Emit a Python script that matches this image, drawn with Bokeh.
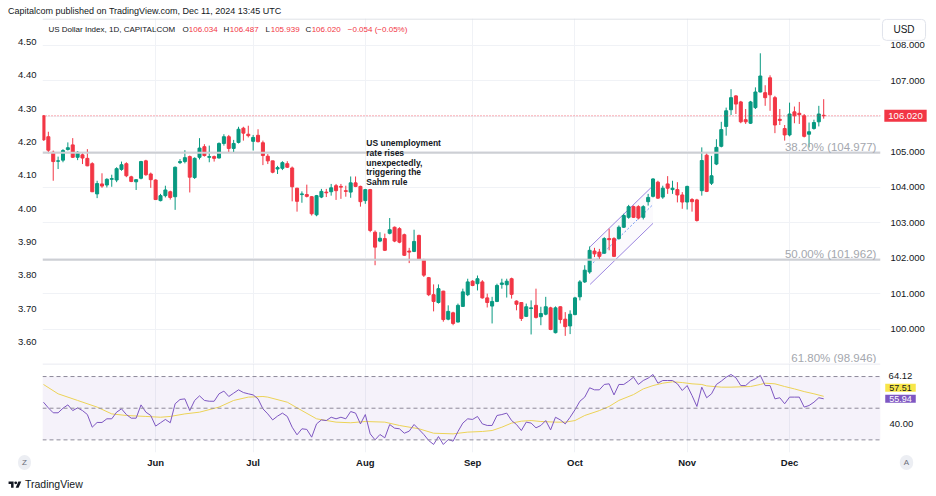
from bokeh.plotting import figure
from bokeh.models import (Range1d, LinearAxis, FixedTicker, Grid, Span, Label,
                          BoxAnnotation, NumeralTickFormatter, Div, ColumnDataSource)
from bokeh.layouts import column, row
from bokeh.embed import file_html
from bokeh.resources import INLINE

# ---------------- data (daily bars, May 1 - Dec 11 2024, weekdays) ----------------
header_text = "Capitalcom published on TradingView.com, Dec 11, 2024 13:45 UTC"
symbol_text = "US Dollar Index, 1D, CAPITALCOM"
month_bars = [23, 43, 66, 88, 109, 132, 153]
month_labels = ["Jun", "Jul", "Aug", "Sep", "Oct", "Nov", "Dec"]
price_ticks = [100, 101, 102, 103, 104, 105, 106, 107, 108]
left_ticks = [3.6, 3.7, 3.8, 3.9, 4.0, 4.1, 4.2, 4.3, 4.4, 4.5]
rsi_ticks = [40]

opens = [
    106.02, 105.43, 104.99, 104.74, 104.77, 105.07, 105.20, 104.85, 104.92, 104.82,
    104.67, 103.82, 104.10, 104.07, 104.23, 104.21, 104.51, 104.67, 104.30, 104.16,
    104.26, 104.75, 104.38, 104.21, 103.63, 103.77, 103.88, 103.74, 104.70, 104.73,
    104.87, 104.28, 104.85, 105.15, 104.85, 104.87, 104.83, 105.24, 105.43, 105.10,
    105.27, 105.67, 105.50, 105.30, 105.47, 105.26, 104.88, 104.75, 104.52, 104.54,
    104.67, 104.55, 103.98, 103.80, 103.80, 103.74, 103.23, 103.73, 103.87, 103.88,
    104.05, 104.03, 103.91, 103.87, 104.13, 104.03, 103.63, 103.94, 102.74, 102.49,
    102.56, 102.71, 102.88, 102.84, 102.67, 102.21, 102.20, 102.65, 101.97, 101.46,
    100.98, 100.76, 101.08, 100.29, 100.47, 100.21, 100.65, 100.98, 101.36, 101.29,
    101.34, 100.89, 100.66, 100.79, 101.27, 101.26, 101.43, 100.80, 100.76, 100.37,
    100.59, 100.68, 100.36, 100.43, 100.61, 99.91, 100.64, 100.29, 100.10, 100.42,
    100.92, 101.34, 101.62, 102.21, 102.18, 102.15, 102.56, 102.56, 102.56, 102.88,
    103.16, 103.46, 103.46, 103.16, 103.60, 103.75, 104.15, 103.73, 104.10, 103.94,
    103.94, 103.79, 103.59, 103.66, 103.65, 103.91, 104.91, 104.12, 104.66, 105.16,
    105.72, 106.19, 106.58, 106.41, 105.91, 105.81, 106.25, 106.69, 106.67, 107.09,
    106.53, 105.92, 105.66, 105.48, 106.13, 106.09, 106.02, 105.50, 105.66, 105.85,
    106.034]
highs = [
    106.03, 105.57, 105.04, 104.87, 105.08, 105.27, 105.39, 105.02, 104.99, 105.08,
    104.71, 104.19, 104.40, 104.26, 104.36, 104.57, 104.73, 104.71, 104.33, 104.23,
    104.75, 104.78, 104.42, 104.23, 103.82, 104.05, 103.91, 104.59, 104.80, 105.05,
    104.90, 104.85, 105.39, 105.22, 105.18, 104.90, 105.27, 105.50, 105.48, 105.34,
    105.71, 105.71, 105.74, 105.48, 105.64, 105.32, 104.94, 104.75, 104.61, 104.74,
    104.74, 104.59, 103.99, 103.89, 104.08, 103.76, 103.79, 103.96, 103.96, 104.10,
    104.10, 104.10, 104.05, 104.31, 104.31, 104.05, 103.96, 103.96, 102.79, 102.74,
    102.70, 103.14, 102.90, 102.88, 102.70, 102.30, 102.81, 102.67, 101.99, 101.48,
    101.27, 101.27, 101.09, 100.68, 100.50, 100.73, 101.15, 101.43, 101.39, 101.52,
    101.39, 101.01, 100.92, 101.29, 101.43, 101.43, 101.46, 100.82, 100.77, 100.73,
    100.82, 101.15, 100.64, 100.92, 100.64, 100.65, 100.65, 100.49, 100.54, 100.92,
    101.39, 101.81, 102.34, 102.30, 102.27, 102.60, 102.84, 102.60, 102.93, 103.26,
    103.51, 103.49, 103.50, 103.50, 103.82, 104.26, 104.19, 104.05, 104.32, 104.19,
    104.15, 103.87, 104.05, 103.70, 103.68, 105.13, 104.97, 104.89, 105.36, 105.85,
    106.25, 106.77, 106.60, 106.44, 106.21, 106.44, 106.82, 107.78, 106.88, 107.16,
    106.58, 106.21, 105.76, 106.39, 106.28, 106.41, 106.07, 105.83, 105.91, 106.30,
    106.487]
lows = [
    105.32, 104.96, 104.19, 104.52, 104.71, 105.04, 104.83, 104.77, 104.66, 104.60,
    103.87, 103.70, 103.99, 104.00, 104.02, 104.15, 104.47, 104.29, 104.15, 103.93,
    104.23, 104.33, 103.99, 103.65, 103.61, 103.72, 103.66, 103.37, 104.66, 104.68,
    103.86, 104.24, 104.79, 104.87, 104.71, 104.73, 104.82, 105.18, 104.97, 104.99,
    105.24, 105.32, 105.41, 105.04, 105.27, 104.63, 104.66, 104.40, 104.38, 104.49,
    104.55, 103.61, 103.32, 103.57, 103.72, 103.21, 103.19, 103.70, 103.73, 103.77,
    103.65, 103.68, 103.74, 103.71, 104.01, 103.46, 103.54, 102.74, 101.81, 102.46,
    102.21, 102.68, 102.46, 102.43, 102.07, 101.87, 102.18, 101.97, 101.48, 100.94,
    100.51, 100.73, 100.22, 100.26, 100.12, 100.20, 100.64, 100.94, 101.22, 101.10,
    100.87, 100.62, 100.17, 100.77, 101.15, 100.90, 100.87, 100.54, 100.24, 100.35,
    99.86, 100.31, 100.12, 100.40, 99.98, 99.89, 100.17, 99.82, 99.87, 100.40,
    100.82, 101.31, 101.57, 102.04, 101.96, 102.13, 102.23, 102.04, 102.53, 102.86,
    103.12, 103.14, 103.10, 103.10, 103.49, 103.72, 103.68, 103.68, 103.82, 103.82,
    103.58, 103.40, 103.38, 103.32, 103.04, 103.77, 103.87, 104.07, 104.63, 105.13,
    105.46, 106.04, 106.07, 105.81, 105.79, 105.79, 106.21, 106.68, 106.30, 106.16,
    105.53, 105.76, 105.32, 105.44, 105.81, 105.79, 105.41, 105.13, 105.63, 105.72,
    105.939]
closes = [
    105.34, 105.05, 104.73, 104.75, 105.04, 105.12, 104.85, 104.99, 104.83, 104.61,
    103.88, 104.11, 104.04, 104.23, 104.25, 104.53, 104.64, 104.33, 104.17, 104.22,
    104.73, 104.36, 104.22, 103.66, 103.77, 103.93, 103.72, 104.57, 104.73, 104.84,
    104.29, 104.82, 105.11, 104.90, 104.87, 104.82, 105.24, 105.43, 105.10, 105.24,
    105.64, 105.53, 105.46, 105.41, 105.29, 104.90, 104.75, 104.43, 104.56, 104.70,
    104.57, 104.02, 103.61, 103.82, 103.75, 103.26, 103.77, 103.89, 103.85, 103.99,
    103.91, 104.01, 103.89, 104.13, 104.03, 103.60, 103.94, 102.79, 102.32, 102.57,
    102.23, 102.81, 102.49, 102.46, 102.09, 102.18, 102.48, 101.99, 101.53, 100.98,
    100.79, 101.15, 100.28, 100.51, 100.17, 100.68, 101.06, 101.34, 101.24, 101.43,
    100.89, 100.76, 100.79, 101.24, 101.31, 101.36, 100.99, 100.71, 100.31, 100.64,
    100.61, 100.34, 100.45, 100.64, 100.00, 100.61, 100.28, 100.08, 100.43, 100.89,
    101.34, 101.67, 102.23, 102.13, 102.06, 102.56, 102.53, 102.06, 102.88, 103.21,
    103.46, 103.16, 103.14, 103.46, 103.72, 104.24, 103.70, 103.98, 103.98, 103.98,
    103.79, 103.59, 104.03, 103.60, 103.07, 104.76, 103.89, 104.33, 105.13, 105.63,
    106.16, 106.53, 106.35, 105.85, 105.85, 106.41, 106.69, 107.14, 106.53, 106.61,
    105.76, 105.89, 105.48, 106.07, 106.02, 106.05, 105.44, 105.57, 105.83, 106.07,
    106.020]
rsi = [
    53.8, 50.2, 47.1, 47.1, 50.0, 52.1, 48.5, 50.2, 48.5, 46.0,
    38.0, 41.0, 41.0, 43.3, 43.3, 47.5, 49.6, 46.0, 43.7, 43.7,
    52.1, 47.5, 45.4, 38.7, 40.8, 42.9, 40.8, 52.8, 55.5, 55.9,
    48.5, 54.9, 57.8, 54.9, 54.4, 54.4, 59.1, 60.8, 57.4, 59.5,
    61.6, 59.9, 59.1, 58.4, 55.9, 49.6, 46.4, 42.6, 45.0, 46.9,
    44.8, 38.0, 33.2, 37.0, 36.6, 31.7, 40.1, 42.6, 42.2, 44.3,
    43.3, 44.3, 43.3, 47.9, 46.9, 40.1, 46.0, 33.8, 30.0, 33.4,
    31.3, 39.7, 37.4, 37.0, 34.2, 35.5, 39.7, 36.6, 33.4, 29.6,
    27.1, 32.1, 27.1, 30.2, 29.2, 35.3, 40.6, 43.3, 42.9, 44.8,
    40.1, 39.1, 39.1, 45.4, 46.0, 46.9, 42.2, 39.7, 35.9, 41.2,
    40.6, 37.6, 39.1, 42.2, 36.3, 44.3, 42.6, 40.1, 44.3, 49.0,
    54.4, 57.0, 62.9, 61.6, 61.6, 65.0, 65.4, 58.4, 65.0, 65.0,
    67.1, 69.6, 65.0, 67.5, 69.0, 71.3, 65.8, 67.5, 67.5, 67.5,
    65.4, 61.2, 64.3, 58.0, 51.1, 63.3, 56.6, 59.1, 65.0, 67.1,
    69.6, 71.3, 69.2, 64.3, 64.3, 67.1, 68.6, 70.7, 64.3, 64.3,
    55.9, 56.6, 52.8, 57.0, 57.0, 57.0, 50.7, 51.7, 53.8, 56.6,
    55.94]
rsi_ma_bars = [0, 3, 7, 11, 14, 17, 21, 24, 26, 29, 32, 36, 39, 42, 45, 46, 50, 53, 56,
               60, 63, 66, 70, 73, 77, 80, 84, 87, 90, 92, 94, 96, 98, 100, 102, 105,
               107, 109, 111, 114, 116, 118, 121, 123, 125, 127, 129, 131, 133, 135,
               136, 139, 141, 145, 147, 148, 150, 152, 154, 156, 158, 160]
rsi_ma = [65.0, 59.1, 54.9, 50.7, 46.4, 45.4, 44.8, 44.3, 44.8, 46.4, 47.5, 50.7, 54.9,
          57.0, 57.4, 57.0, 53.8, 48.5, 43.3, 41.2, 40.8, 41.6, 41.2, 39.1, 37.0, 34.2,
          33.8, 34.9, 35.3, 35.9, 38.0, 40.6, 41.8, 42.2, 41.6, 41.2, 41.2, 42.2, 45.4,
          48.5, 51.1, 54.9, 58.6, 62.2, 64.3, 65.8, 66.7, 66.2, 65.4, 65.0, 64.1, 63.3,
          63.3, 63.7, 65.0, 65.8, 65.4, 63.7, 62.2, 60.5, 59.1, 57.51]
fib_levels = [104.977, 101.962, 98.946]
fib_texts = ["38.20% (104.977)", "50.00% (101.962)", "61.80% (98.946)"]
last_close = 106.020
rsi_last = 55.94
rsi_ma_last = 57.51
rsi_scale_label = 64.12
rsi_levels = [70, 50, 30]
channel_bars = [112.1, 125.0]
channel_upper = [102.33, 104.05]
channel_lower = [101.27, 102.99]
note_text = "US unemployment\nrate rises\nunexpectedly,\ntriggering the\nSahm rule"

# ---------------- styling ----------------
FONT = "Liberation Sans"
GREEN = "#089981"
RED = "#f23645"
TXT = "#131722"
GRID = "#f0f2f6"
X_RANGE = Range1d(-0.2, 171.65)
PRICE_RANGE = Range1d(99.042, 108.76)

n = min(len(opens), len(highs), len(lows), len(closes))
bars = list(range(n))
src = ColumnDataSource(dict(
    x=bars, h=highs[:n], l=lows[:n],
    top=[max(o, c) for o, c in zip(opens[:n], closes[:n])],
    bot=[min(o, c) for o, c in zip(opens[:n], closes[:n])],
    color=[GREEN if c >= o else RED for o, c in zip(opens[:n], closes[:n])],
))


def overlay(width, height, x_end, y_range, margin=None):
    kw = dict(width=width, height=height, x_range=Range1d(0, x_end), y_range=y_range,
              output_backend="svg", toolbar_location=None, x_axis_location=None,
              y_axis_location=None, min_border=0, min_border_left=0, min_border_right=0,
              min_border_top=0, min_border_bottom=0, frame_align=False)
    if margin is not None:
        kw["margin"] = margin
    fig = figure(**kw)
    fig.outline_line_color = None
    fig.background_fill_color = None
    fig.border_fill_color = None
    fig.xgrid.visible = False
    fig.ygrid.visible = False
    return fig


# ---------------- main price pane ----------------
p = figure(width=920, height=345, x_range=X_RANGE, y_range=PRICE_RANGE,
           output_backend="svg", toolbar_location=None, x_axis_location=None,
           y_axis_location="right", min_border_left=34, min_border_right=48,
           min_border_top=0, min_border_bottom=0)
p.outline_line_color = None
p.background_fill_color = "white"
p.border_fill_color = "white"

ra = p.yaxis[0]
ra.ticker = FixedTicker(ticks=price_ticks)
ra.formatter = NumeralTickFormatter(format="0.000")
ra.axis_line_color = None
ra.major_tick_line_color = None
ra.minor_tick_line_color = None
ra.major_tick_out = 0
ra.major_label_standoff = 10
ra.major_label_text_font = FONT
ra.major_label_text_font_size = "9.5px"
ra.major_label_text_color = TXT

p.extra_y_ranges = {"yld": Range1d(3.5362, 4.5698)}
la = LinearAxis(y_range_name="yld", ticker=FixedTicker(ticks=left_ticks),
                formatter=NumeralTickFormatter(format="0.00"))
la.axis_line_color = None
la.major_tick_line_color = None
la.minor_tick_line_color = None
la.major_tick_out = 0
la.major_label_standoff = 6
la.major_label_text_font = FONT
la.major_label_text_font_size = "9.5px"
la.major_label_text_color = TXT
p.add_layout(la, "left")

p.ygrid.grid_line_color = GRID
p.xgrid.visible = False
p.add_layout(Grid(dimension=0, ticker=FixedTicker(ticks=month_bars), grid_line_color=GRID))

# pane top border
p.add_layout(Span(location=108.745, dimension="width", line_color="#d6d9e0", line_width=1))

# fibonacci levels
for i, (lvl, txt) in enumerate(zip(fib_levels, fib_texts)):
    p.add_layout(Span(location=lvl, dimension="width", line_color="#cdcfd4", line_width=2))
    p.add_layout(Label(x=170.8, y=lvl, text=txt, text_align="right", text_baseline="alphabetic",
                       y_offset=6 if i < 2 else 9, text_font=FONT, text_font_size="11.5px",
                       text_color="#a4a7ae"))

# last price line
p.add_layout(Span(location=last_close, dimension="width", line_color=RED, line_width=1,
                  line_dash="1 2", line_alpha=0.8))

# parallel channel
mid = [(u + l) / 2 for u, l in zip(channel_upper, channel_lower)]
p.patch(channel_bars + channel_bars[::-1], channel_upper + channel_lower[::-1],
        fill_color="#9575cd", fill_alpha=0.04, line_color=None)
p.line(channel_bars, channel_upper, line_color="#9c86e0", line_width=1)
p.line(channel_bars, channel_lower, line_color="#9c86e0", line_width=1)
p.line(channel_bars, mid, line_color="#6f95f0", line_width=1, line_dash="2 2")

# candles
p.segment(x0="x", y0="l", x1="x", y1="h", line_color="color", line_width=1, source=src)
p.vbar(x="x", width=0.62, top="top", bottom="bot", fill_color="color", line_color="color",
       line_width=1, source=src)

# annotation
p.add_layout(Label(x=66.2, y=105.394, text=note_text, text_align="left", text_baseline="top",
                   text_font=FONT, text_font_size="8.5px", text_font_style="bold",
                   text_color=TXT, text_line_height=0.98))

# legend line
legend_parts = [
    (1.03, symbol_text, TXT), (28.5, "O", TXT), (29.8, "106.034", RED),
    (36.92, "H", TXT), (38.2, "106.487", RED), (45.53, "L", TXT), (46.6, "105.939", RED),
    (53.73, "C", TXT), (55.0, "106.020", RED), (62.4, "\u22120.054 (\u22120.05%)", RED),
]
for xx, txt, col in legend_parts:
    p.add_layout(Label(x=xx, y=108.44, text=txt, text_align="left", text_baseline="middle",
                       text_font=FONT, text_font_size="8px", text_color=col))

# overlay over the price scale (tags)
pt = overlay(48, 345, 48, PRICE_RANGE, margin=(0, 0, 0, -48))
pt.add_layout(Label(x=25, y=last_close, text=f"{last_close:.3f}", text_align="center",
                    text_baseline="middle", text_font=FONT, text_font_size="9.5px",
                    text_color="white", background_fill_color=RED, padding=(4, 3)))
pt.add_layout(Label(x=23.5, y=108.44, text="USD", text_align="center",
                    text_baseline="middle", text_font=FONT, text_font_size="10px",
                    text_color=TXT, background_fill_color="white",
                    border_line_color="#e0e3eb", border_radius=4, padding=(11, 5)))

# ---------------- RSI pane ----------------
r = figure(width=920, height=108, x_range=X_RANGE, y_range=Range1d(22.02, 78.24),
           output_backend="svg", toolbar_location=None, y_axis_location="right",
           min_border_left=34, min_border_right=48, min_border_top=0, min_border_bottom=19,
           margin=(0, 0, 0, -34))
r.outline_line_color = None
r.background_fill_color = "white"
r.border_fill_color = None

xa = r.xaxis[0]
xa.ticker = FixedTicker(ticks=month_bars)
xa.major_label_overrides = {b: lab for b, lab in zip(month_bars, month_labels)}
xa.axis_line_color = None
xa.major_tick_line_color = None
xa.minor_tick_line_color = None
xa.major_tick_out = 0
xa.major_label_standoff = 4
xa.major_label_text_font = FONT
xa.major_label_text_font_size = "9.5px"
xa.major_label_text_font_style = "bold"
xa.major_label_text_color = TXT

ya = r.yaxis[0]
ya.ticker = FixedTicker(ticks=rsi_ticks)
ya.formatter = NumeralTickFormatter(format="0.00")
ya.axis_line_color = None
ya.major_tick_line_color = None
ya.minor_tick_line_color = None
ya.major_tick_out = 0
ya.major_label_standoff = 9
ya.major_label_text_font = FONT
ya.major_label_text_font_size = "9.5px"
ya.major_label_text_color = TXT

r.ygrid.visible = False
r.xgrid.ticker = FixedTicker(ticks=month_bars)
r.xgrid.grid_line_color = GRID

r.add_layout(BoxAnnotation(bottom=rsi_levels[2], top=rsi_levels[0], fill_color="#7e57c2",
                           fill_alpha=0.08, line_color=None))
for lv in rsi_levels:
    r.add_layout(Span(location=lv, dimension="width", line_color="#8e8a9a", line_width=1,
                      line_dash="4 3"))
r.add_layout(Span(location=77.95, dimension="width", line_color="#e0e3eb", line_width=1))

r.line(rsi_ma_bars, rsi_ma, line_color="#f6de4f", line_width=1)
r.line(bars, rsi[:n], line_color="#7e57c2", line_width=1)

RSI_FULL = Range1d(10.02, 78.24)
# overlay over the RSI scale
rt = overlay(48, 108, 48, RSI_FULL, margin=(0, 0, 0, -48))
rt.add_layout(Label(x=20, y=70.66, text=f"{rsi_scale_label:.2f}", text_align="center",
                    text_baseline="middle", text_font=FONT, text_font_size="9.5px",
                    text_color=TXT))
rt.add_layout(Label(x=20, y=rsi_last + 6.95, text=f"{rsi_ma_last:.2f}", text_align="center",
                    text_baseline="middle", text_font=FONT, text_font_size="9px",
                    text_color=TXT, background_fill_color="#f8e649", padding=(4, 1)))
rt.add_layout(Label(x=20, y=rsi_last, text=f"{rsi_last:.2f}", text_align="center",
                    text_baseline="middle", text_font=FONT, text_font_size="9px",
                    text_color="white", background_fill_color="#7e57c2", padding=(4, 1)))
rt.add_layout(Label(x=26, y=15.7, text="A", text_align="center", text_baseline="middle",
                    text_font=FONT, text_font_size="8px", text_color="#6a6d78",
                    background_fill_color="#eceef3", border_radius=7, padding=(4, 3)))

# overlay under the left part of the time scale
rl = overlay(34, 108, 34, RSI_FULL)
rl.add_layout(Label(x=16, y=15.7, text="Z", text_align="center", text_baseline="middle",
                    text_font=FONT, text_font_size="8px", text_color="#6a6d78",
                    background_fill_color="#eceef3", border_radius=7, padding=(4, 3)))

# ---------------- header / footer ----------------
header = Div(text=header_text, width=920, height=10, margin=(0, 0, 0, 0),
             styles={"font-family": FONT, "font-size": "9px", "color": TXT,
                     "line-height": "6px", "white-space": "nowrap"})
logo = ('<div style="display:flex;align-items:center;gap:3px;padding-top:6px;'
        'font-family:Liberation Sans;font-size:10.5px;color:#131722;">'
        '<svg width="14" height="10" viewBox="0 0 36 28">'
        '<path d="M14 22H7V11H0V4h14v18z" fill="#131722"/>'
        '<circle cx="20" cy="8" r="4" fill="#131722"/>'
        '<path d="M28 22h-8l7.5-18h8L28 22z" fill="#131722"/></svg>'
        '<span>TradingView</span></div>')
footer = Div(text=logo, width=920, height=17, margin=(0, 0, 0, 0))

main_row = row(p, pt, spacing=0, margin=(0, 0, 0, 0))
rsi_row = row(rl, r, rt, spacing=0, margin=(0, 0, 0, 0))
layout = column(header, main_row, rsi_row, footer, spacing=0, margin=(8, 0, 0, 8))
open("out.html", "w").write(file_html(layout, INLINE))
